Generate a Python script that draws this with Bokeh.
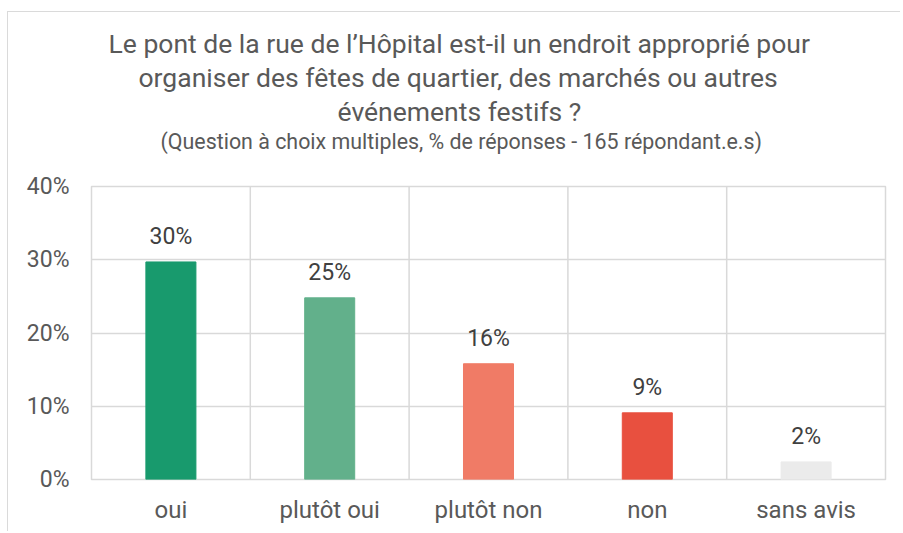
from bokeh.plotting import figure
from bokeh.models import (ColumnDataSource, Range1d, FixedTicker, PrintfTickFormatter,
                          Span, LabelSet, Title, CategoricalAxis)
from bokeh.core.properties import value
from bokeh.embed import file_html
from bokeh.resources import INLINE

categories = ["oui", "plutôt oui", "plutôt non", "non", "sans avis"]
values = [29.7, 24.8, 15.8, 9.1, 2.4]
value_labels = ["30%", "25%", "16%", "9%", "2%"]
colors = ["#189a6d", "#62b08b", "#f07b66", "#e8503f", "#ebebeb"]
y_ticks = [0, 10, 20, 30, 40]

title_lines = [
    "Le pont de la rue de l\u2019Hôpital est-il un endroit approprié pour",
    "organiser des fêtes de quartier, des marchés ou autres",
    "événements festifs ?",
]
subtitle = "(Question à choix multiples, % de réponses - 165 répondant.e.s)"

FONT = "Roboto"
GRID = "#d9d9d9"
TXT = "#595959"

src = ColumnDataSource(dict(cat=categories, val=values, lab=value_labels, color=colors))

p = figure(x_range=categories, y_range=Range1d(0, 40), width=893, height=520,
           output_backend="svg", toolbar_location=None,
           min_border_left=83, min_border_right=16, min_border_top=174, min_border_bottom=53)
p.styles = {"margin-left": "7px", "margin-top": "11px",
            "border-left": "1px solid #dadada", "border-top": "1px solid #dadada"}

p.vbar(x="cat", top="val", width=0.315, color="color", source=src)

p.add_layout(LabelSet(x="cat", y="val", text="lab", source=src, y_offset=18,
                      text_align="center", text_baseline="alphabetic",
                      text_font=value(FONT), text_font_size=value("23px"),
                      text_color="#404040"))

p.outline_line_color = GRID
p.outline_line_width = 1.5
p.xgrid.visible = False
p.ygrid.grid_line_color = GRID
p.ygrid.grid_line_width = 1.5
p.ygrid.ticker = FixedTicker(ticks=y_ticks)
for i in range(1, len(categories)):
    p.add_layout(Span(location=i, dimension="height", line_color=GRID, line_width=1.5))

p.yaxis.ticker = FixedTicker(ticks=y_ticks)
p.yaxis.formatter = PrintfTickFormatter(format="%d%%")
for ax in (p.xaxis, p.yaxis):
    ax.axis_line_color = None
    ax.major_tick_line_color = None
    ax.minor_tick_line_color = None
    ax.major_label_text_font = FONT
    ax.major_label_text_color = TXT
p.yaxis.major_label_standoff = 16
p.yaxis.major_label_text_font_size = "23px"
p.xaxis.major_label_text_font_size = "24px"
p.xaxis.major_label_standoff = 10

# blank spacer between the plot and the subtitle (invisible ticks, empty labels)
spacer = CategoricalAxis(axis_line_color=None,
                         major_tick_line_color="white", major_tick_line_alpha=0.01,
                         minor_tick_line_color=None,
                         major_tick_in=0, major_tick_out=29, major_label_standoff=0,
                         major_label_overrides={c: "" for c in categories},
                         major_label_text_font_size="1px", major_label_text_color="white")
p.add_layout(spacer, "above")

# titles: added from the plot upward (first added sits closest to the plot)
p.add_layout(Title(text=subtitle, align="left", offset=69, standoff=0,
                   text_font=FONT, text_font_size="21.4px", text_font_style="normal",
                   text_color=TXT), "above")
title_offsets = [17, 47, 246]
title_standoffs = [1, 1, 0]
for t, off, so in reversed(list(zip(title_lines, title_offsets, title_standoffs))):
    p.add_layout(Title(text=t, align="left", offset=off, standoff=so,
                       text_font=FONT, text_font_size="26.5px", text_font_style="normal",
                       text_color=TXT), "above")

open("out.html", "w").write(file_html(p, INLINE))
